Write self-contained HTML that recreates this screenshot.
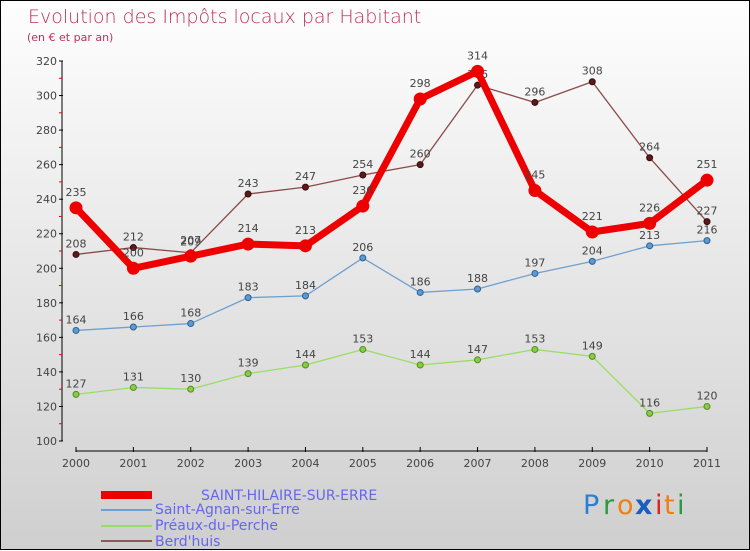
<!DOCTYPE html>
<html><head><meta charset="utf-8"><style>
html,body{margin:0;padding:0}
body{width:750px;height:550px;overflow:hidden;font-family:"DejaVu Sans","Liberation Sans",sans-serif}
#wrap{position:relative;width:748px;height:548px;border:1px solid #000;background:linear-gradient(#fefefe,#f0f0f0 30%,#cfcfcf)}
svg{position:absolute;left:0;top:0}
</style></head><body>
<div id="wrap">
<svg id="c" width="750" height="550">
<text x="27" y="22" font-size="19" fill="#c0305a" style="font-weight:200">Evolution des Impôts locaux par Habitant</text>
<text x="26" y="40" font-size="11" fill="#c0305a">(en € et par an)</text>
<text x="200" y="499" font-size="14" fill="#6666ee">SAINT-HILAIRE-SUR-ERRE</text>
<text x="154" y="513" font-size="14" fill="#6666ee">Saint-Agnan-sur-Erre</text>
<text x="154" y="529" font-size="14" fill="#6666ee">Préaux-du-Perche</text>
<text x="154" y="545" font-size="14" fill="#6666ee">Berd'huis</text>
<line x1="100" y1="494" x2="151" y2="494" stroke="#e00" stroke-width="8"/>
<line x1="100" y1="509" x2="151" y2="509" stroke="#6fa0cf" stroke-width="2"/>
<line x1="100" y1="525" x2="151" y2="525" stroke="#99dd66" stroke-width="2"/>
<line x1="100" y1="540" x2="151" y2="540" stroke="#8b5a5a" stroke-width="2"/>
<g font-size="27" font-family="'DejaVu Sans',sans-serif">
<text x="582" y="513" fill="#2a7fd4">P</text><text x="602" y="513" fill="#2a9a3a">r</text><text x="616" y="513" fill="#f07f10">o</text><text x="634" y="513" fill="#1a5fc0" font-weight="bold">x</text><text x="654" y="513" fill="#e02020">i</text><text x="663" y="513" fill="#f07f10">t</text><text x="676" y="513" fill="#2a9a3a">i</text>
</g>
</svg>
</div>
<script>
const years=["2000","2001","2002","2003","2004","2005","2006","2007","2008","2009","2010","2011"];
const yTicks=[100,120,140,160,180,200,220,240,260,280,300,320];
const sHilaire=[235,200,207,214,213,236,298,314,245,221,226,251];
const sAgnan=[164,166,168,183,184,206,186,188,197,204,213,216];
const preaux=[127,131,130,139,144,153,144,147,153,149,116,120];
const berdhuis=[208,212,209,243,247,254,260,306,296,308,264,227];
const NS="http://www.w3.org/2000/svg";
const svg=document.getElementById('c');
const X=i=>75+i*(631/11);
const Y=v=>440-(v-100)*(380/220);
function mk(t,a,p){const e=document.createElementNS(NS,t);for(const k in a)e.setAttribute(k,a[k]);(p||svg).appendChild(e);return e;}
const axes=mk('g',{});


let yl=mk('line',{x1:61,y1:Y(320),x2:61,y2:Y(100),stroke:'#000','stroke-width':1},axes);


yTicks.forEach(v=>{
 mk('line',{x1:58,y1:Y(v),x2:62,y2:Y(v),stroke:'#000'},axes);
 if(v<320) mk('line',{x1:58,y1:Y(v+10),x2:61,y2:Y(v+10),stroke:'#e00'},axes);
 const t=mk('text',{x:56,y:Y(v)+4,'text-anchor':'end','font-size':11,fill:'#444'},axes);
 t.textContent=v;
 
 
});
let xl=mk('line',{x1:X(0),y1:450,x2:X(11),y2:450,stroke:'#000'},axes);


years.forEach((y,i)=>{
 mk('line',{x1:X(i),y1:446,x2:X(i),y2:451,stroke:'#000'},axes);
 const t=mk('text',{x:X(i),y:466,'text-anchor':'middle','font-size':11,fill:'#444'},axes);
 t.textContent=y;
 
 
});
function series(data,name,color,w,r,dot,dotStroke,labelDy){
 const g=mk('g',{});
 
 
 const pl=mk('polyline',{points:data.map((v,i)=>X(i)+','+Y(v)).join(' '),fill:'none',stroke:color,'stroke-width':w,'stroke-linejoin':'round'},g);
 
 
 data.forEach((v,i)=>{
  const c=mk('circle',{cx:X(i),cy:Y(v),r:r,fill:dot,stroke:dotStroke,'stroke-width':1},g);
  
  
  const t=mk('text',{x:X(i),y:Y(v)+labelDy,'text-anchor':'middle','font-size':11,fill:'#444'},g);
  t.textContent=v;
  
  
 });
}
series(preaux,'preaux','#99dd66',1.3,3,'#88cc44','#558822',-7);
series(sAgnan,'saint-agnan','#6fa0cf',1.3,3,'#5b9bd5','#2d5f8f',-7);
series(berdhuis,'berdhuis','#8b4a4a',1.3,3,'#5a1a1a','#3a0a0a',-7);
series(sHilaire,'saint-hilaire','#ee0000',7,6,'#ee0000','#ee0000',-12);
</script>
</body></html>
